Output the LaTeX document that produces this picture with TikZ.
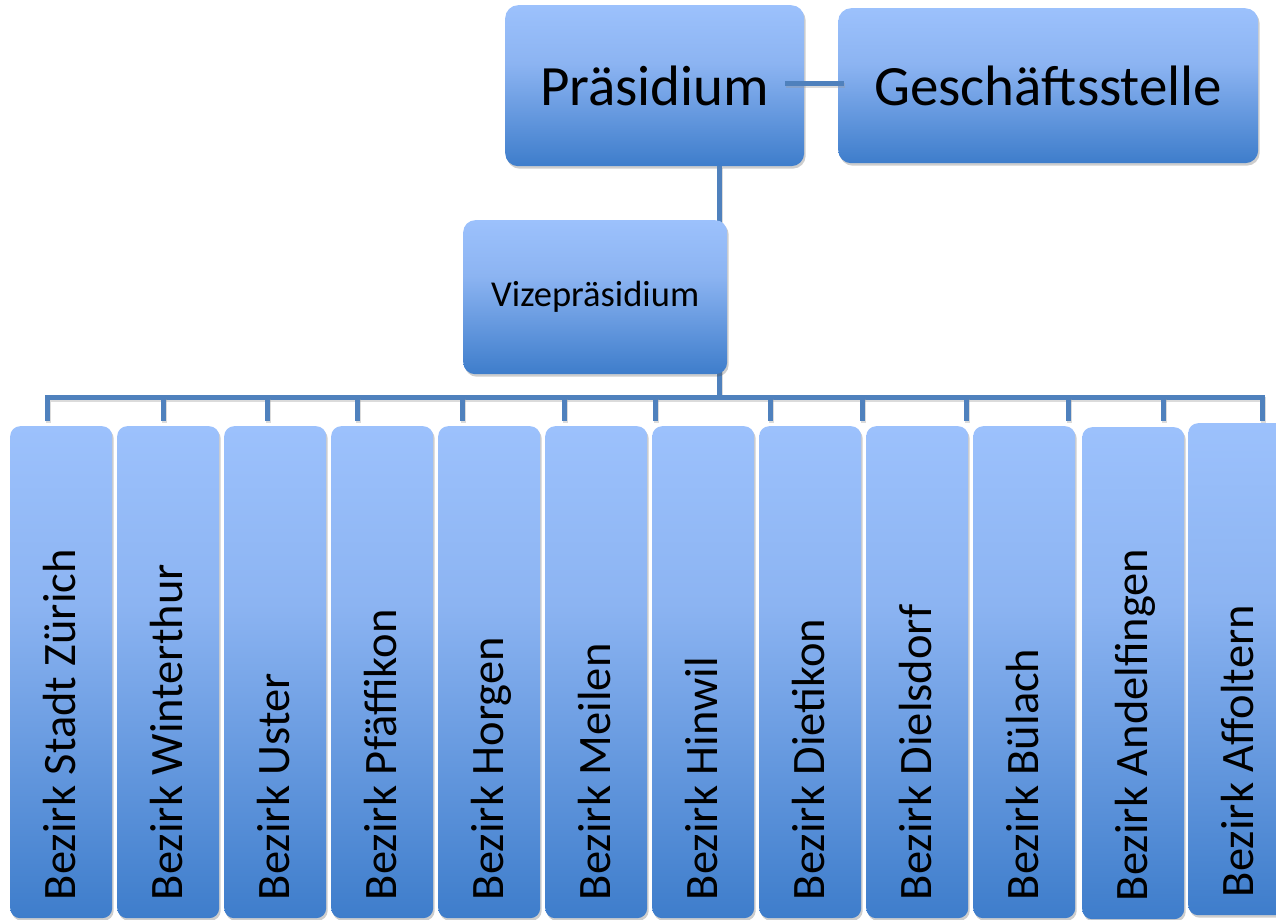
\documentclass[tikz,border=0pt]{standalone}
\usepackage{fontspec}
\setmainfont{Carlito}
\usetikzlibrary{shadows}

\definecolor{boxlight}{RGB}{156,193,252}
\definecolor{boxmid}{RGB}{140,180,242}
\definecolor{boxdark}{RGB}{62,125,203}
\definecolor{linkblue}{RGB}{79,129,189}

% light at the top, staying light for about a third, then darkening
\pgfdeclareverticalshading{orgfill}{100bp}{%
  color(0bp)=(boxdark); color(25bp)=(boxdark);
  color(57bp)=(boxmid); color(75bp)=(boxlight); color(100bp)=(boxlight)}

\begin{document}
\begin{tikzpicture}[x=1pt,y=-1pt,
  orgbox/.style={rectangle, anchor=north west, inner sep=0pt,
    shading=orgfill, draw=none,
    drop shadow={shadow xshift=1.5pt, shadow yshift=-2.5pt,
      opacity=0.28, fill=black!70}},
  topbox/.style={orgbox, rounded corners=13pt},
  colbox/.style={orgbox, rounded corners=10pt,
    minimum width=102pt, minimum height=492pt},
  coltext/.style={anchor=base west, rotate=90, inner sep=0pt,
    font=\fontsize{46.5}{50}\selectfont},
  link/.style={draw=linkblue, line width=5pt,
    preaction={draw=black!40, opacity=0.35, line width=5pt,
      transform canvas={xshift=1pt, yshift=-2pt}}}]
\useasboundingbox (0,0) rectangle (1276,920);

% top level
\node[topbox, minimum width=299pt, minimum height=161pt,
      font=\fontsize{57}{60}\selectfont] (pres) at (505,5) {Präsidium};
\node[topbox, minimum width=420pt, minimum height=155pt,
      font=\fontsize{57}{60}\selectfont] (gs) at (838,8) {Geschäftsstelle};
\draw[link] ([xshift=-19pt,yshift=2pt]pres.east) -- ([xshift=6pt,yshift=2pt]gs.west);

% trunk down to the district bus
\coordinate (j) at (719,397);
\draw[link] (pres.south -| j) -- (j);

\node[topbox, rounded corners=12pt, minimum width=264pt, minimum height=154pt,
      font=\fontsize{36.5}{40}\selectfont] (vize) at (463,220) {Vizepräsidium};

% drop points along the bus
\foreach \x [count=\i] in {47,163,267,357,462,564,655,770,862,966,1068,1163,1262}
  \coordinate (d\i) at (\x,421);

\draw[link] (d1) -- (d1 |- j) -- (d13 |- j) -- (d13);
\foreach \i in {2,...,12}
  \draw[link] (d\i |- j) -- (d\i);

% districts
\foreach \x/\t/\lab [count=\i] in {
    10/426/Bezirk Stadt Zürich,
    117/426/Bezirk Winterthur,
    224/426/Bezirk Uster,
    331/426/Bezirk Pfäffikon,
    438/426/Bezirk Horgen,
    545/426/Bezirk Meilen,
    652/426/Bezirk Hinwil,
    759/426/Bezirk Dietikon,
    866/426/Bezirk Dielsdorf,
    973/426/Bezirk Bülach,
    1082/427/Bezirk Andelfingen,
    1188/423/Bezirk Affoltern}{
  \node[colbox] (c\i) at (\x,\t) {};
  \node[coltext] (t\i) at ([xshift=14pt,yshift=18pt]c\i.south) {\lab};
}
\end{tikzpicture}
\end{document}
